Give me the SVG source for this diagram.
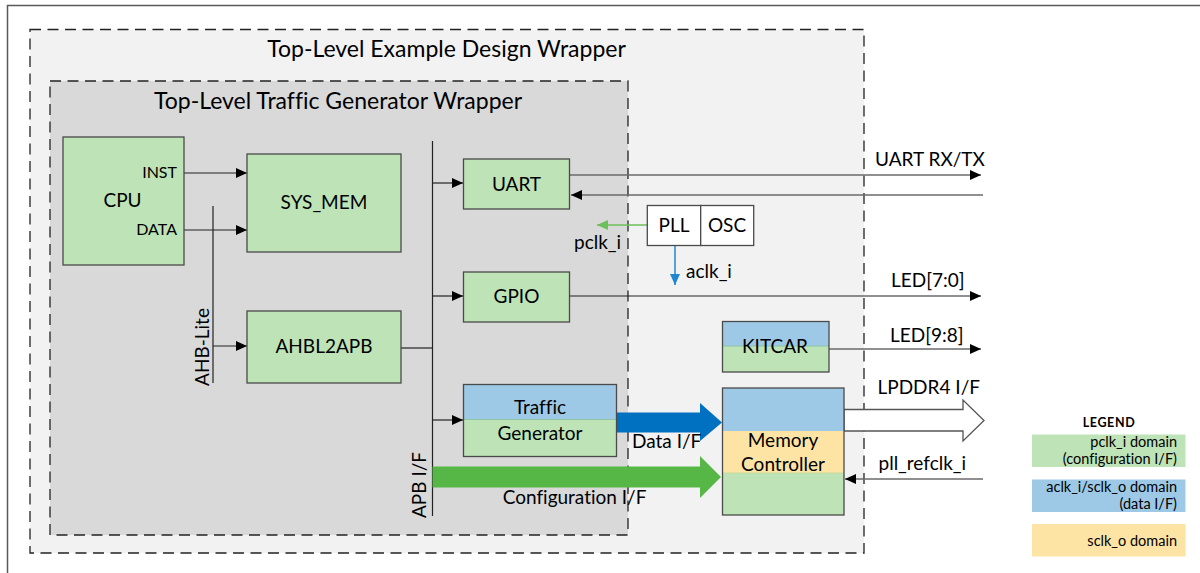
<svg xmlns="http://www.w3.org/2000/svg" width="1200" height="573" viewBox="0 0 1200 573">
<style>
text{font-family:Lato,"Liberation Sans",sans-serif;fill:#000;font-variant-ligatures:none}
.t{font-size:23px}
.b{font-size:19px}
.s{font-size:16px}
.lg{font-size:14.5px}
.m{text-anchor:middle}
.e{text-anchor:end}
.box{stroke:#4a4a4a;stroke-width:1.3}
.g{fill:#bde3b6}
.bl{fill:#9dc9e6}
.y{fill:#fde4a5}
.ln{stroke:#222;stroke-width:1.2;fill:none}
.gl{stroke:#6a6a6a;stroke-width:1.6;fill:none}
</style>
<defs>
<marker id="ah" markerUnits="userSpaceOnUse" markerWidth="12" markerHeight="10" refX="11" refY="5" orient="auto"><path d="M0,0 L11,5 L0,10 Z" fill="#000"/></marker>
<marker id="ahg" markerUnits="userSpaceOnUse" markerWidth="12" markerHeight="10" refX="11" refY="5" orient="auto"><path d="M0,0 L11,5 L0,10 Z" fill="#6cc05a"/></marker>
<marker id="ahb" markerUnits="userSpaceOnUse" markerWidth="12" markerHeight="10" refX="11" refY="5" orient="auto"><path d="M0,0 L11,5 L0,10 Z" fill="#1f87d0"/></marker>
</defs>
<rect x="0" y="0" width="1200" height="573" fill="#fff"/>
<rect x="7.5" y="5.5" width="1210" height="600" fill="#fff" stroke="#5a5a5a" stroke-width="1.5"/>

<g id="top-wrapper">
<rect x="30" y="29.5" width="834" height="523.5" fill="#f2f2f2" stroke="#222" stroke-width="1.3" stroke-dasharray="11,6.5"/>
<text class="t m" x="446.5" y="57">Top-Level Example Design Wrapper</text>
</g>
<g id="tg-wrapper">
<rect x="50" y="81" width="578" height="454" fill="#d9d9d9" stroke="#222" stroke-width="1.3" stroke-dasharray="11,6.5"/>
<text class="t m" x="338" y="109">Top-Level Traffic Generator Wrapper</text>
</g>

<g id="connectors">
<line class="ln" x1="184" y1="173" x2="247" y2="173" marker-end="url(#ah)"/>
<line class="ln" x1="184" y1="230" x2="247" y2="230" marker-end="url(#ah)"/>
<line class="ln" x1="213" y1="206" x2="213" y2="383"/>
<line class="ln" x1="213" y1="346" x2="247" y2="346" marker-end="url(#ah)"/>
<line class="ln" x1="401" y1="348" x2="432.5" y2="348"/>
<line class="ln" x1="432.5" y1="141" x2="432.5" y2="516"/>
<line class="ln" x1="432.5" y1="183" x2="463" y2="183" marker-end="url(#ah)"/>
<line class="ln" x1="432.5" y1="296" x2="463" y2="296" marker-end="url(#ah)"/>
<line class="ln" x1="432.5" y1="420" x2="463" y2="420" marker-end="url(#ah)"/>
<line class="gl" x1="570" y1="175" x2="981" y2="175" marker-end="url(#ah)"/>
<line class="gl" x1="983" y1="195" x2="571" y2="195" marker-end="url(#ah)"/>
<line class="ln" x1="570" y1="296" x2="981" y2="296" marker-end="url(#ah)"/>
<line class="gl" x1="829" y1="349" x2="981" y2="349" marker-end="url(#ah)"/>
<line class="gl" x1="983" y1="479" x2="845" y2="479" marker-end="url(#ah)"/>
<line x1="647" y1="225" x2="597" y2="225" stroke="#6cc05a" stroke-width="1.5" marker-end="url(#ahg)"/>
<line x1="675" y1="245" x2="675" y2="285" stroke="#1f87d0" stroke-width="1.5" marker-end="url(#ahb)"/>
<polygon points="616,412.5 700,412.5 700,403 722,422.5 700,441 700,432.5 616,432.5" fill="#0070c0"/>
<polygon points="432.5,466.5 700,466.5 700,456 721,477 700,498 700,487.5 432.5,487.5" fill="#56b747"/>
<polygon points="844,409.5 963,409.5 963,400 984,420.5 963,441 963,431 844,431" fill="#fff" stroke="#555" stroke-width="1.3"/>
<text class="b" x="875" y="166">UART RX/TX</text>
<text class="b" x="891" y="287">LED[7:0]</text>
<text class="b" x="890" y="342">LED[9:8]</text>
<text class="b" x="877.5" y="394">LPDDR4 I/F</text>
<text class="b" x="878.5" y="470">pll_refclk_i</text>
<text class="b" x="632" y="448">Data I/F</text>
<text class="b" x="502.7" y="503.5">Configuration I/F</text>
<text class="b" x="574" y="249">pclk_i</text>
<text class="b" x="686" y="278">aclk_i</text>
<text class="b m" transform="translate(208.5,347) rotate(-90)">AHB-Lite</text>
<text class="b m" transform="translate(426,485) rotate(-90)">APB I/F</text>
</g>

<g id="cpu">
<rect class="box g" x="63" y="137" width="121" height="128"/>
<text class="b m" x="122.5" y="207">CPU</text>
<text class="s e" x="177" y="178">INST</text>
<text class="s e" x="177" y="235">DATA</text>
</g>
<g id="sys-mem">
<rect class="box g" x="247" y="154" width="154" height="98"/>
<text class="b m" x="324" y="209">SYS_MEM</text>
</g>
<g id="ahbl2apb">
<rect class="box g" x="247" y="311" width="154" height="72"/>
<text class="b m" x="324" y="353">AHBL2APB</text>
</g>
<g id="uart">
<rect class="box g" x="463.5" y="159" width="106" height="50"/>
<text class="b m" x="516.5" y="191">UART</text>
</g>
<g id="gpio">
<rect class="box g" x="463.5" y="272" width="106" height="50"/>
<text class="b m" x="516.5" y="303">GPIO</text>
</g>
<g id="traffic-generator">
<rect class="bl" x="463.5" y="384.5" width="153" height="35"/>
<rect class="g" x="463.5" y="419.5" width="153" height="37"/>
<line x1="463.5" y1="419.5" x2="616.5" y2="419.5" stroke="#8cc4a8" stroke-width="1.2"/>
<rect class="box" fill="none" x="463.5" y="384.5" width="153" height="72"/>
<text class="b m" x="540" y="414">Traffic</text>
<text class="b m" x="540" y="439.5">Generator</text>
</g>
<g id="pll-osc">
<rect class="box" fill="#fff" x="647.3" y="205.5" width="53.4" height="40"/>
<rect class="box" fill="#fff" x="700.7" y="205.5" width="53" height="40"/>
<text class="b m" x="674" y="232">PLL</text>
<text class="b m" x="727" y="232">OSC</text>
</g>
<g id="kitcar">
<rect class="bl" x="722.5" y="321.5" width="106.5" height="24.5"/>
<rect class="g" x="722.5" y="346" width="106.5" height="26"/>
<line x1="722.5" y1="346" x2="829" y2="346" stroke="#8cc4a8" stroke-width="1.2"/>
<rect class="box" fill="none" x="722.5" y="321.5" width="106.5" height="50.5"/>
<text class="b m" x="775" y="353">KITCAR</text>
</g>
<g id="memory-controller">
<rect class="bl" x="722.5" y="388" width="121.5" height="43"/>
<rect class="y" x="722.5" y="431" width="121.5" height="42"/>
<rect class="g" x="722.5" y="473" width="121.5" height="42"/>
<line x1="722.5" y1="473" x2="844" y2="473" stroke="#c9d99a" stroke-width="1.2"/>
<rect class="box" fill="none" x="722.5" y="388" width="121.5" height="127"/>
<text class="b m" x="783" y="447">Memory</text>
<text class="b m" x="783" y="470.5">Controller</text>
</g>
<g id="legend">
<text x="1109" y="427" text-anchor="middle" font-size="12.5" font-weight="bold" letter-spacing="0.6">LEGEND</text>
<rect class="g" x="1032" y="434.5" width="153.5" height="32.5"/>
<text class="lg e" x="1177" y="447">pclk_i domain</text>
<text class="lg e" x="1177" y="464">(configuration I/F)</text>
<rect class="bl" x="1032" y="479.5" width="153.5" height="32.5"/>
<text class="lg e" x="1177" y="492">aclk_i/sclk_o domain</text>
<text class="lg e" x="1177" y="509">(data I/F)</text>
<rect class="y" x="1032" y="524" width="153.5" height="32.5"/>
<text class="lg e" x="1177" y="546">sclk_o domain</text>
</g>
</svg>
